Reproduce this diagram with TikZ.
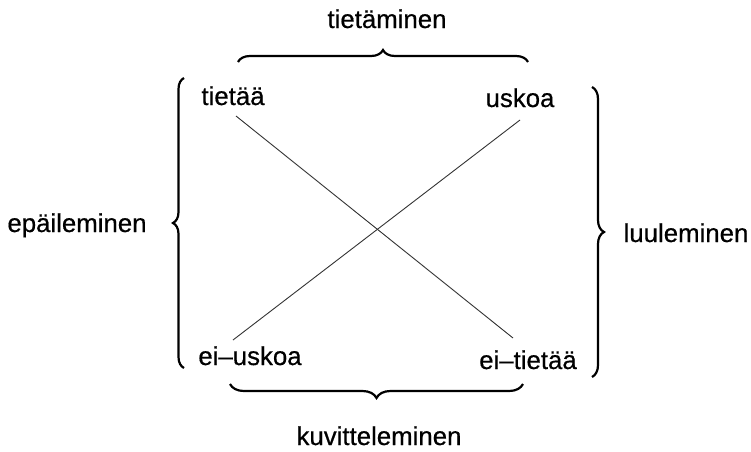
\documentclass[tikz,border=0pt]{standalone}
\usepackage{fontspec}
\setmainfont{Liberation Sans}
\newfontfamily\lblfont{Liberation Sans}[FakeBold=0.5]
\usetikzlibrary{decorations.pathreplacing}
\begin{document}
\begin{tikzpicture}[x=1pt,y=-1pt,
  lbl/.style={anchor=base,inner sep=0pt,font=\fontsize{25.8}{30}\lblfont},
  conn/.style={line width=0.9pt,black!80},
  brc/.style={decorate,decoration={brace,amplitude=#1},line width=2.2pt}]
\useasboundingbox (0,0) rectangle (751,451);
\node[lbl] (tm) at (387,28) {tietäminen};
\node[lbl] (ti) at (233,105) {tietää};
\node[lbl] (us) at (520,107) {uskoa};
\node[lbl] (ep) at (77,232) {epäileminen};
\node[lbl] (lu) at (686,242) {luuleminen};
\node[lbl] (eu) at (250,365) {ei–uskoa};
\node[lbl] (et) at (528,369) {ei–tietää};
\node[lbl] (ku) at (379,445) {kuvitteleminen};
\coordinate (ti1) at (236,116);
\coordinate (et1) at (513,338);
\coordinate (us1) at (520,120);
\coordinate (eu1) at (233,340);
\draw[conn] (ti1) -- (et1);
\draw[conn] (us1) -- (eu1);
\coordinate (bt1) at (238,62); \coordinate (bt2) at (528,62);
\coordinate (bb1) at (523,384); \coordinate (bb2) at (230,384);
\coordinate (bl1) at (184,368); \coordinate (bl2) at (184,78);
\coordinate (br1) at (592,87); \coordinate (br2) at (592,377);
\draw[brc=12] (bt1) -- (bt2);
\draw[brc=14] (bb1) -- (bb2);
\draw[brc=11] (bl1) -- (bl2);
\draw[brc=12] (br1) -- (br2);
\end{tikzpicture}
\end{document}
